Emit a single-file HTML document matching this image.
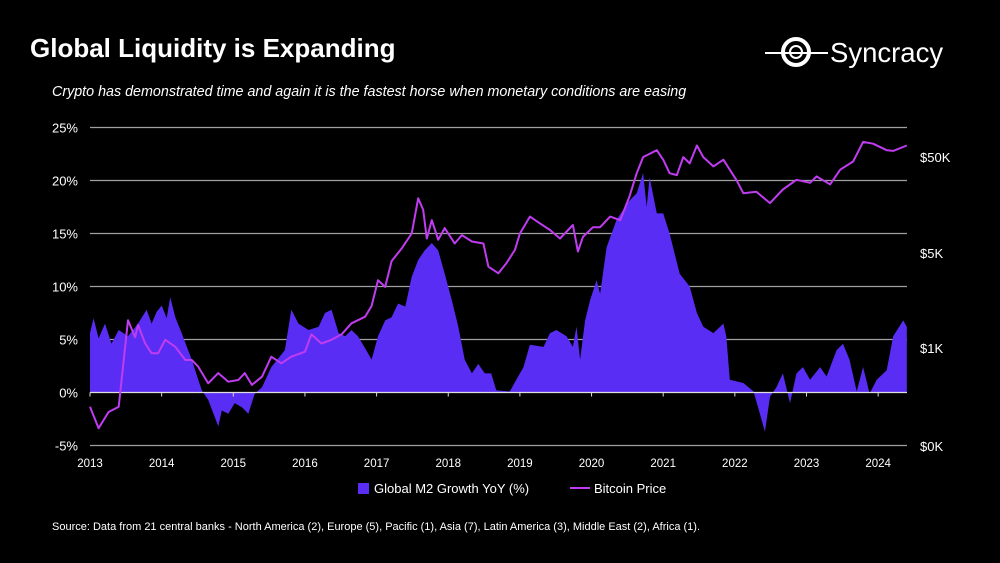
<!DOCTYPE html>
<html><head><meta charset="utf-8"><style>
html,body{margin:0;padding:0;background:#000;}
body{width:1000px;height:563px;position:relative;overflow:hidden;font-family:"Liberation Sans",sans-serif;color:#fff;}
.abs{position:absolute;white-space:nowrap;}
</style></head><body>
<div class="abs" style="left:30px;top:33px;font-size:26px;font-weight:bold;">Global Liquidity is Expanding</div>
<div class="abs" style="left:52px;top:84px;font-size:14.3px;font-style:italic;">Crypto has demonstrated time and again it is the fastest horse when monetary conditions are easing</div>
<svg class="abs" style="left:760px;top:30px" width="200" height="46">
<line x1="5" y1="23" x2="68" y2="23" stroke="#fff" stroke-width="2"/>
<circle cx="36" cy="22" r="13" fill="none" stroke="#fff" stroke-width="4"/>
<circle cx="36" cy="22" r="6" fill="none" stroke="#fff" stroke-width="2"/>
<text x="70" y="32" fill="#fff" font-size="27.5" font-family="Liberation Sans, sans-serif">Syncracy</text>
</svg>
<svg id="chart" class="abs" style="left:0;top:0" width="1000" height="563"></svg>
<div class="abs" style="left:358px;top:481px;font-size:13px;"><span style="display:inline-block;width:11px;height:11px;background:#5a2df5;margin-right:5px;vertical-align:-1px"></span>Global M2 Growth YoY (%)</div>
<div class="abs" style="left:570px;top:481px;font-size:13px;"><span style="display:inline-block;width:20px;height:2px;background:#c03cf0;margin-right:4px;vertical-align:4px"></span>Bitcoin Price</div>
<div class="abs" style="left:52px;top:521px;font-size:11px;">Source: Data from 21 central banks - North America (2), Europe (5), Pacific (1), Asia (7), Latin America (3), Middle East (2), Africa (1).</div>
<script>
const m2Years=[
2013.00,2013.05,2013.12,2013.21,2013.30,2013.40,2013.53,2013.67,2013.79,2013.86,
2013.93,2014.00,2014.07,2014.12,2014.19,2014.28,2014.42,2014.56,2014.65,2014.79,
2014.84,2014.93,2015.02,2015.12,2015.21,2015.30,2015.40,2015.53,2015.72,2015.81,
2015.91,2016.05,2016.19,2016.28,2016.37,2016.47,2016.56,2016.65,2016.74,2016.88,
2016.93,2017.02,2017.12,2017.21,2017.30,2017.40,2017.49,2017.58,2017.67,2017.77,
2017.86,2017.95,2018.05,2018.14,2018.23,2018.33,2018.42,2018.51,2018.60,2018.67,
2018.86,2018.95,2019.05,2019.14,2019.33,2019.42,2019.51,2019.65,2019.74,2019.79,
2019.84,2019.91,2019.98,2020.07,2020.12,2020.21,2020.35,2020.53,2020.63,2020.72,
2020.77,2020.81,2020.91,2021.00,2021.09,2021.23,2021.37,2021.47,2021.56,2021.70,
2021.84,2021.88,2021.93,2022.12,2022.26,2022.35,2022.42,2022.49,2022.58,2022.67,
2022.77,2022.86,2022.95,2023.05,2023.19,2023.28,2023.42,2023.51,2023.60,2023.70,
2023.79,2023.88,2023.98,2024.12,2024.21,2024.35,2024.40];
const m2Values=[
5.6,7.0,5.1,6.5,4.6,5.9,5.3,6.5,7.8,6.5,
7.6,8.2,7.0,9.0,7.1,5.6,3.1,0.2,-0.7,-3.2,
-1.7,-2.0,-1.0,-1.4,-2.0,-0.1,0.5,2.4,4.0,7.8,
6.5,5.9,6.2,7.5,7.8,5.6,5.3,5.9,5.3,3.7,
3.1,5.3,6.8,7.1,8.4,8.1,10.9,12.5,13.4,14.1,
13.4,11.2,8.7,6.2,3.1,1.8,2.7,1.8,1.8,0.2,
0.1,1.2,2.4,4.5,4.3,5.6,5.9,5.3,4.3,6.2,
3.1,6.8,8.7,10.6,9.3,13.7,16.3,18.1,18.8,20.7,
17.5,20.3,16.9,16.9,15.0,11.2,10.0,7.5,6.2,5.6,
6.5,5.3,1.2,0.9,0.1,-2.0,-3.7,-0.4,0.5,1.8,
-1.0,1.8,2.4,1.2,2.4,1.5,4.0,4.6,3.1,0.1,
2.4,-0.1,1.2,2.1,5.3,6.8,6.2];
const btcYears=[
2013.00,2013.12,2013.26,2013.40,2013.53,2013.63,2013.67,2013.77,2013.86,2013.95,
2014.05,2014.19,2014.33,2014.42,2014.51,2014.65,2014.79,2014.93,2015.07,2015.16,
2015.26,2015.40,2015.53,2015.67,2015.81,2016.00,2016.09,2016.23,2016.37,2016.51,
2016.65,2016.84,2016.93,2017.02,2017.12,2017.21,2017.35,2017.49,2017.58,2017.65,
2017.70,2017.77,2017.86,2017.95,2018.09,2018.19,2018.33,2018.49,2018.56,2018.70,
2018.81,2018.93,2019.00,2019.14,2019.28,2019.42,2019.56,2019.74,2019.81,2019.88,
2020.02,2020.12,2020.26,2020.40,2020.53,2020.63,2020.72,2020.91,2021.00,2021.09,
2021.19,2021.28,2021.37,2021.47,2021.56,2021.70,2021.84,2022.02,2022.12,2022.30,
2022.49,2022.67,2022.86,2023.05,2023.14,2023.33,2023.47,2023.65,2023.79,2023.93,
2024.12,2024.21,2024.40];
const btcPrices=[
16,3.5,11,16,1600,1200,1480,1080,690,690,
1150,1020,430,430,270,83,170,93,105,170,
74,132,540,340,540,770,1260,1080,1150,1260,
1520,1700,2040,3160,2820,4370,5600,8000,18600,14100,
7100,11000,6900,9100,6300,7700,6600,6300,3970,3550,
4200,5400,8000,12000,10200,8700,7100,9800,5200,7400,
9300,9300,12000,11000,19500,34000,50000,59000,47000,34000,
32500,50000,43000,66000,50000,40000,47000,29000,21000,21800,
16600,23000,29000,27000,31500,26000,37000,45000,72000,69000,
59000,58000,66000];
const yTicks=[25,20,15,10,5,0,-5];
const yTickLabels=["25%","20%","15%","10%","5%","0%","-5%"];
const xTicks=[2013,2014,2015,2016,2017,2018,2019,2020,2021,2022,2023,2024];
const rTicks=[50000,5000,1000,1];
const rTickLabels=["$50K","$5K","$1K","$0K"];
const NS="http://www.w3.org/2000/svg";
const svg=document.getElementById('chart');
const X0=90,X1=907;
function xs(yr){return X0+(yr-2013)*71.65;}
function ys(p){return 392.5-p*10.6;}
const rAnchorsLog=[0,3,3.7,4.7];
const rAnchorsY=[446,348,253,157];
function ry(price){const L=Math.log10(Math.max(price,1));
 for(let i=0;i<rAnchorsLog.length-1;i++){if(L<=rAnchorsLog[i+1]||i===rAnchorsLog.length-2){const t=(L-rAnchorsLog[i])/(rAnchorsLog[i+1]-rAnchorsLog[i]);return rAnchorsY[i]+t*(rAnchorsY[i+1]-rAnchorsY[i]);}}}
function mk(tag,attrs){const e=document.createElementNS(NS,tag);for(const k in attrs)e.setAttribute(k,attrs[k]);svg.appendChild(e);return e;}
yTicks.forEach((v,i)=>{
 if(v!==0){const g=mk('line',{x1:X0,x2:X1,y1:ys(v),y2:ys(v),stroke:'#a0a0a0','stroke-width':1.3});
 
 }
 const t=mk('text',{x:78,y:ys(v)+5,'text-anchor':'end',fill:'#fff','font-size':13,'font-family':'Liberation Sans, sans-serif'});
 t.textContent=yTickLabels[i];
 
 
});
const nM2=Math.min(m2Years.length,m2Values.length);
let d='M'+xs(m2Years[0]).toFixed(1)+','+ys(0);
for(let i=0;i<nM2;i++){d+=' L'+xs(m2Years[i]).toFixed(1)+','+ys(m2Values[i]).toFixed(1);}
d+=' L'+xs(m2Years[nM2-1]).toFixed(1)+','+ys(0)+' Z';
const area=mk('path',{d:d,fill:'#5a2df5'});


const ax=mk('line',{x1:X0,x2:X1,y1:ys(0),y2:ys(0),stroke:'#ddd','stroke-width':1.3});


xTicks.forEach(yr=>{
 const tk=mk('line',{x1:xs(yr),x2:xs(yr),y1:ys(0),y2:ys(0)+4,stroke:'#ddd'});
 
 
 const t=mk('text',{x:xs(yr),y:467,'text-anchor':'middle',fill:'#fff','font-size':11.5,'font-family':'Liberation Sans, sans-serif'});
 t.textContent=yr;
 
 
});
const nB=Math.min(btcYears.length,btcPrices.length);
let pl='';
for(let i=0;i<nB;i++){pl+=(i?' L':'M')+xs(btcYears[i]).toFixed(1)+','+ry(btcPrices[i]).toFixed(1);}
const line=mk('path',{d:pl,fill:'none',stroke:'#c03cf0','stroke-width':2,'stroke-linejoin':'round'});


rTicks.forEach((v,i)=>{
 const t=mk('text',{x:920,y:ry(v)+5,fill:'#fff','font-size':13,'font-family':'Liberation Sans, sans-serif'});
 t.textContent=rTickLabels[i];
 
 
});
</script>
</body></html>
